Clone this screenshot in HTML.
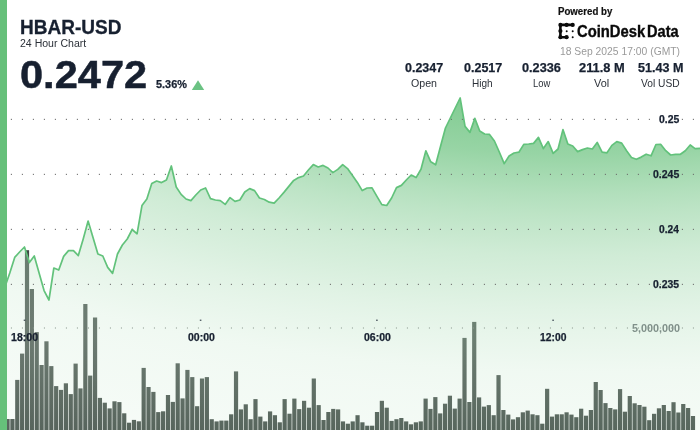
<!DOCTYPE html>
<html><head><meta charset="utf-8"><title>HBAR-USD 24 Hour Chart</title>
<style>
html,body{margin:0;padding:0;background:#fff;}
body{width:700px;height:430px;overflow:hidden;position:relative;font-family:"Liberation Sans",sans-serif;color:#172030;}
#chart{position:absolute;left:0;top:0;}
#strip{position:absolute;left:0;top:0;width:7.3px;height:430px;background:#66c07a;}
#txt{position:absolute;left:0;top:0;width:700px;height:430px;will-change:transform;transform:translateZ(0);}
.t{position:absolute;white-space:nowrap;line-height:1;transform-origin:0 0;}
.b{font-weight:bold;}
.c{transform-origin:50% 0;text-align:center;}
.r{transform-origin:100% 0;text-align:right;}
</style></head><body>
<svg id="chart" width="700" height="430" viewBox="0 0 700 430">
<defs><radialGradient id="g" gradientUnits="userSpaceOnUse" cx="575" cy="-150" r="650" gradientTransform="translate(575 -150) scale(2.0 1) translate(-575 150)">
<stop offset="0.0000" stop-color="rgb(102,192,122)" stop-opacity="0.86"/><stop offset="0.3769" stop-color="rgb(102,192,122)" stop-opacity="0.86"/><stop offset="0.4092" stop-color="rgb(102,192,122)" stop-opacity="0.79"/><stop offset="0.4677" stop-color="rgb(102,192,122)" stop-opacity="0.68"/><stop offset="0.4846" stop-color="rgb(102,192,122)" stop-opacity="0.63"/><stop offset="0.5308" stop-color="rgb(102,192,122)" stop-opacity="0.5"/><stop offset="0.5615" stop-color="rgb(102,192,122)" stop-opacity="0.43"/><stop offset="0.6231" stop-color="rgb(102,192,122)" stop-opacity="0.31"/><stop offset="0.6862" stop-color="rgb(102,192,122)" stop-opacity="0.225"/><stop offset="0.7077" stop-color="rgb(102,192,122)" stop-opacity="0.195"/><stop offset="0.7385" stop-color="rgb(102,192,122)" stop-opacity="0.16"/><stop offset="0.7692" stop-color="rgb(102,192,122)" stop-opacity="0.13"/><stop offset="0.8000" stop-color="rgb(102,192,122)" stop-opacity="0.1"/><stop offset="0.8385" stop-color="rgb(102,192,122)" stop-opacity="0.085"/><stop offset="0.8923" stop-color="rgb(102,192,122)" stop-opacity="0.075"/><stop offset="1.0000" stop-color="rgb(102,192,122)" stop-opacity="0.045"/>
</radialGradient>
<linearGradient id="v" gradientUnits="userSpaceOnUse" x1="0" y1="240" x2="0" y2="430">
<stop offset="0" stop-color="#fff" stop-opacity="0.22"/><stop offset="0.5" stop-color="#fff" stop-opacity="0.24"/><stop offset="1" stop-color="#fff" stop-opacity="0.12"/>
</linearGradient></defs>
<g fill="#404a45"><rect x="0.60" y="419.0" width="4.2" height="11.0"/><rect x="5.46" y="419.0" width="4.2" height="11.0"/><rect x="10.32" y="419.0" width="4.2" height="11.0"/><rect x="15.18" y="379.9" width="4.2" height="50.1"/><rect x="20.04" y="353.6" width="4.2" height="76.4"/><rect x="24.91" y="250.2" width="4.2" height="179.8"/><rect x="29.77" y="289.0" width="4.2" height="141.0"/><rect x="34.63" y="332.1" width="4.2" height="97.9"/><rect x="39.49" y="365.0" width="4.2" height="65.0"/><rect x="44.35" y="341.3" width="4.2" height="88.7"/><rect x="49.21" y="366.1" width="4.2" height="63.9"/><rect x="54.07" y="386.1" width="4.2" height="43.9"/><rect x="58.93" y="389.9" width="4.2" height="40.1"/><rect x="63.79" y="383.3" width="4.2" height="46.7"/><rect x="68.66" y="394.1" width="4.2" height="35.9"/><rect x="73.52" y="363.6" width="4.2" height="66.4"/><rect x="78.38" y="388.4" width="4.2" height="41.6"/><rect x="83.24" y="304.0" width="4.2" height="126.0"/><rect x="88.10" y="375.6" width="4.2" height="54.4"/><rect x="92.96" y="317.5" width="4.2" height="112.5"/><rect x="97.82" y="397.9" width="4.2" height="32.1"/><rect x="102.68" y="402.7" width="4.2" height="27.3"/><rect x="107.54" y="408.4" width="4.2" height="21.6"/><rect x="112.41" y="401.3" width="4.2" height="28.7"/><rect x="117.27" y="402.1" width="4.2" height="27.9"/><rect x="122.13" y="413.3" width="4.2" height="16.7"/><rect x="126.99" y="422.7" width="4.2" height="7.3"/><rect x="131.85" y="419.9" width="4.2" height="10.1"/><rect x="136.71" y="421.3" width="4.2" height="8.7"/><rect x="141.57" y="367.9" width="4.2" height="62.1"/><rect x="146.43" y="387.0" width="4.2" height="43.0"/><rect x="151.29" y="391.9" width="4.2" height="38.1"/><rect x="156.16" y="412.1" width="4.2" height="17.9"/><rect x="161.02" y="411.3" width="4.2" height="18.7"/><rect x="165.88" y="395.0" width="4.2" height="35.0"/><rect x="170.74" y="401.9" width="4.2" height="28.1"/><rect x="175.60" y="363.3" width="4.2" height="66.7"/><rect x="180.46" y="398.4" width="4.2" height="31.6"/><rect x="185.32" y="369.9" width="4.2" height="60.1"/><rect x="190.18" y="377.1" width="4.2" height="52.9"/><rect x="195.04" y="406.2" width="4.2" height="23.8"/><rect x="199.91" y="378.5" width="4.2" height="51.5"/><rect x="204.77" y="377.1" width="4.2" height="52.9"/><rect x="209.63" y="419.2" width="4.2" height="10.8"/><rect x="214.49" y="421.4" width="4.2" height="8.6"/><rect x="219.35" y="420.6" width="4.2" height="9.4"/><rect x="224.21" y="420.6" width="4.2" height="9.4"/><rect x="229.07" y="414.3" width="4.2" height="15.7"/><rect x="233.93" y="371.4" width="4.2" height="58.6"/><rect x="238.79" y="409.4" width="4.2" height="20.6"/><rect x="243.66" y="404.3" width="4.2" height="25.7"/><rect x="248.52" y="419.2" width="4.2" height="10.8"/><rect x="253.38" y="399.1" width="4.2" height="30.9"/><rect x="258.24" y="416.6" width="4.2" height="13.4"/><rect x="263.10" y="421.4" width="4.2" height="8.6"/><rect x="267.96" y="411.4" width="4.2" height="18.6"/><rect x="272.82" y="415.2" width="4.2" height="14.8"/><rect x="277.68" y="422.3" width="4.2" height="7.7"/><rect x="282.54" y="399.1" width="4.2" height="30.9"/><rect x="287.41" y="413.7" width="4.2" height="16.3"/><rect x="292.27" y="398.6" width="4.2" height="31.4"/><rect x="297.13" y="409.1" width="4.2" height="20.9"/><rect x="301.99" y="400.8" width="4.2" height="29.2"/><rect x="306.85" y="407.7" width="4.2" height="22.3"/><rect x="311.71" y="378.5" width="4.2" height="51.5"/><rect x="316.57" y="405.1" width="4.2" height="24.9"/><rect x="321.43" y="420.0" width="4.2" height="10.0"/><rect x="326.29" y="412.0" width="4.2" height="18.0"/><rect x="331.16" y="408.9" width="4.2" height="21.1"/><rect x="336.02" y="409.4" width="4.2" height="20.6"/><rect x="340.88" y="421.4" width="4.2" height="8.6"/><rect x="345.74" y="423.7" width="4.2" height="6.3"/><rect x="350.60" y="421.4" width="4.2" height="8.6"/><rect x="355.46" y="415.2" width="4.2" height="14.8"/><rect x="360.32" y="422.3" width="4.2" height="7.7"/><rect x="365.18" y="425.7" width="4.2" height="4.3"/><rect x="370.04" y="425.7" width="4.2" height="4.3"/><rect x="374.91" y="412.0" width="4.2" height="18.0"/><rect x="379.77" y="400.8" width="4.2" height="29.2"/><rect x="384.63" y="407.7" width="4.2" height="22.3"/><rect x="389.49" y="420.9" width="4.2" height="9.1"/><rect x="394.35" y="419.2" width="4.2" height="10.8"/><rect x="399.21" y="418.0" width="4.2" height="12.0"/><rect x="404.07" y="421.4" width="4.2" height="8.6"/><rect x="408.93" y="424.3" width="4.2" height="5.7"/><rect x="413.79" y="422.3" width="4.2" height="7.7"/><rect x="418.66" y="421.4" width="4.2" height="8.6"/><rect x="423.52" y="398.6" width="4.2" height="31.4"/><rect x="428.38" y="408.9" width="4.2" height="21.1"/><rect x="433.24" y="397.1" width="4.2" height="32.9"/><rect x="438.10" y="413.4" width="4.2" height="16.6"/><rect x="442.96" y="403.7" width="4.2" height="26.3"/><rect x="447.82" y="395.7" width="4.2" height="34.3"/><rect x="452.68" y="408.6" width="4.2" height="21.4"/><rect x="457.54" y="398.6" width="4.2" height="31.4"/><rect x="462.41" y="337.9" width="4.2" height="92.1"/><rect x="467.27" y="402.0" width="4.2" height="28.0"/><rect x="472.13" y="321.9" width="4.2" height="108.1"/><rect x="476.99" y="397.4" width="4.2" height="32.6"/><rect x="481.85" y="406.6" width="4.2" height="23.4"/><rect x="486.71" y="405.1" width="4.2" height="24.9"/><rect x="491.57" y="415.2" width="4.2" height="14.8"/><rect x="496.43" y="375.1" width="4.2" height="54.9"/><rect x="501.29" y="410.0" width="4.2" height="20.0"/><rect x="506.16" y="414.6" width="4.2" height="15.4"/><rect x="511.02" y="419.4" width="4.2" height="10.6"/><rect x="515.88" y="417.2" width="4.2" height="12.8"/><rect x="520.74" y="412.3" width="4.2" height="17.7"/><rect x="525.60" y="410.6" width="4.2" height="19.4"/><rect x="530.46" y="414.3" width="4.2" height="15.7"/><rect x="535.32" y="415.2" width="4.2" height="14.8"/><rect x="540.18" y="423.7" width="4.2" height="6.3"/><rect x="545.04" y="388.8" width="4.2" height="41.2"/><rect x="549.91" y="416.6" width="4.2" height="13.4"/><rect x="554.77" y="414.3" width="4.2" height="15.7"/><rect x="559.63" y="414.3" width="4.2" height="15.7"/><rect x="564.49" y="412.3" width="4.2" height="17.7"/><rect x="569.35" y="414.6" width="4.2" height="15.4"/><rect x="574.21" y="417.2" width="4.2" height="12.8"/><rect x="579.07" y="408.7" width="4.2" height="21.3"/><rect x="583.93" y="415.7" width="4.2" height="14.3"/><rect x="588.79" y="410.0" width="4.2" height="20.0"/><rect x="593.66" y="382.0" width="4.2" height="48.0"/><rect x="598.52" y="390.0" width="4.2" height="40.0"/><rect x="603.38" y="403.1" width="4.2" height="26.9"/><rect x="608.24" y="408.0" width="4.2" height="22.0"/><rect x="613.10" y="409.4" width="4.2" height="20.6"/><rect x="617.96" y="389.1" width="4.2" height="40.9"/><rect x="622.82" y="411.7" width="4.2" height="18.3"/><rect x="627.68" y="396.0" width="4.2" height="34.0"/><rect x="632.54" y="403.3" width="4.2" height="26.7"/><rect x="637.41" y="405.0" width="4.2" height="25.0"/><rect x="642.27" y="406.7" width="4.2" height="23.3"/><rect x="647.13" y="420.2" width="4.2" height="9.8"/><rect x="651.99" y="413.8" width="4.2" height="16.2"/><rect x="656.85" y="408.3" width="4.2" height="21.7"/><rect x="661.71" y="405.0" width="4.2" height="25.0"/><rect x="666.57" y="411.0" width="4.2" height="19.0"/><rect x="671.43" y="402.2" width="4.2" height="27.8"/><rect x="676.29" y="412.5" width="4.2" height="17.5"/><rect x="681.16" y="404.0" width="4.2" height="26.0"/><rect x="686.02" y="408.0" width="4.2" height="22.0"/><rect x="690.88" y="416.0" width="4.2" height="14.0"/></g>
<path d="M0.00,290.00 L4.90,287.00 L9.79,273.00 L14.69,257.40 L19.58,252.00 L24.48,247.00 L29.37,262.60 L34.27,256.00 L39.16,273.20 L44.06,290.60 L48.95,300.00 L53.85,268.00 L58.74,270.00 L63.64,256.40 L68.53,250.60 L73.43,250.60 L78.32,255.60 L83.22,239.00 L88.11,221.00 L93.01,237.40 L97.90,254.00 L102.80,256.00 L107.69,267.40 L112.59,273.40 L117.48,254.00 L122.38,245.00 L127.27,239.00 L132.17,229.50 L137.06,233.80 L141.96,205.60 L146.85,199.00 L151.75,183.60 L156.64,181.00 L161.54,182.60 L166.43,180.00 L171.33,166.00 L176.22,187.00 L181.12,194.40 L186.01,199.00 L190.91,200.60 L195.80,195.00 L200.70,190.00 L205.59,188.00 L210.49,198.60 L215.38,200.00 L220.28,200.60 L225.17,204.40 L230.07,197.60 L234.97,201.40 L239.86,200.00 L244.76,192.00 L249.65,188.60 L254.55,190.60 L259.44,198.00 L264.34,199.50 L269.23,202.20 L274.13,203.20 L279.02,198.00 L283.92,192.40 L288.81,186.40 L293.71,180.40 L298.60,177.60 L303.50,176.00 L308.39,170.00 L313.29,164.60 L318.18,167.00 L323.08,165.40 L327.97,168.00 L332.87,172.60 L337.76,169.40 L342.66,164.60 L347.55,168.60 L352.45,175.60 L357.34,182.40 L362.24,190.60 L367.13,188.00 L372.03,187.80 L376.92,196.40 L381.82,204.60 L386.71,205.50 L391.61,198.00 L396.50,187.60 L401.40,185.40 L406.29,180.00 L411.19,175.00 L416.08,177.60 L420.98,169.20 L425.87,150.80 L430.77,161.80 L435.66,164.80 L440.56,146.20 L445.45,128.00 L450.35,118.00 L455.24,108.00 L460.14,98.00 L465.03,126.40 L469.93,132.40 L474.83,118.40 L479.72,131.00 L484.62,134.00 L489.51,134.40 L494.41,141.00 L499.30,152.00 L504.20,163.60 L509.09,156.00 L513.99,153.00 L518.88,152.20 L523.78,144.40 L528.67,144.00 L533.57,143.40 L538.46,137.40 L543.36,148.60 L548.25,141.60 L553.15,153.40 L558.04,149.00 L562.94,129.60 L567.83,144.00 L572.73,146.00 L577.62,151.60 L582.52,149.60 L587.41,148.00 L592.31,149.00 L597.20,142.40 L602.10,152.20 L606.99,152.80 L611.89,145.40 L616.78,141.60 L621.68,143.10 L626.57,150.80 L631.47,157.50 L636.36,159.30 L641.26,157.10 L646.15,154.20 L651.05,155.80 L655.94,144.50 L660.84,144.40 L665.73,150.70 L670.63,155.00 L675.52,154.30 L680.42,154.30 L685.31,150.70 L690.21,145.00 L695.10,148.60 L700.00,148.30 L700,430 L0,430 Z" fill="url(#v)"/>
<path d="M0.00,290.00 L4.90,287.00 L9.79,273.00 L14.69,257.40 L19.58,252.00 L24.48,247.00 L29.37,262.60 L34.27,256.00 L39.16,273.20 L44.06,290.60 L48.95,300.00 L53.85,268.00 L58.74,270.00 L63.64,256.40 L68.53,250.60 L73.43,250.60 L78.32,255.60 L83.22,239.00 L88.11,221.00 L93.01,237.40 L97.90,254.00 L102.80,256.00 L107.69,267.40 L112.59,273.40 L117.48,254.00 L122.38,245.00 L127.27,239.00 L132.17,229.50 L137.06,233.80 L141.96,205.60 L146.85,199.00 L151.75,183.60 L156.64,181.00 L161.54,182.60 L166.43,180.00 L171.33,166.00 L176.22,187.00 L181.12,194.40 L186.01,199.00 L190.91,200.60 L195.80,195.00 L200.70,190.00 L205.59,188.00 L210.49,198.60 L215.38,200.00 L220.28,200.60 L225.17,204.40 L230.07,197.60 L234.97,201.40 L239.86,200.00 L244.76,192.00 L249.65,188.60 L254.55,190.60 L259.44,198.00 L264.34,199.50 L269.23,202.20 L274.13,203.20 L279.02,198.00 L283.92,192.40 L288.81,186.40 L293.71,180.40 L298.60,177.60 L303.50,176.00 L308.39,170.00 L313.29,164.60 L318.18,167.00 L323.08,165.40 L327.97,168.00 L332.87,172.60 L337.76,169.40 L342.66,164.60 L347.55,168.60 L352.45,175.60 L357.34,182.40 L362.24,190.60 L367.13,188.00 L372.03,187.80 L376.92,196.40 L381.82,204.60 L386.71,205.50 L391.61,198.00 L396.50,187.60 L401.40,185.40 L406.29,180.00 L411.19,175.00 L416.08,177.60 L420.98,169.20 L425.87,150.80 L430.77,161.80 L435.66,164.80 L440.56,146.20 L445.45,128.00 L450.35,118.00 L455.24,108.00 L460.14,98.00 L465.03,126.40 L469.93,132.40 L474.83,118.40 L479.72,131.00 L484.62,134.00 L489.51,134.40 L494.41,141.00 L499.30,152.00 L504.20,163.60 L509.09,156.00 L513.99,153.00 L518.88,152.20 L523.78,144.40 L528.67,144.00 L533.57,143.40 L538.46,137.40 L543.36,148.60 L548.25,141.60 L553.15,153.40 L558.04,149.00 L562.94,129.60 L567.83,144.00 L572.73,146.00 L577.62,151.60 L582.52,149.60 L587.41,148.00 L592.31,149.00 L597.20,142.40 L602.10,152.20 L606.99,152.80 L611.89,145.40 L616.78,141.60 L621.68,143.10 L626.57,150.80 L631.47,157.50 L636.36,159.30 L641.26,157.10 L646.15,154.20 L651.05,155.80 L655.94,144.50 L660.84,144.40 L665.73,150.70 L670.63,155.00 L675.52,154.30 L680.42,154.30 L685.31,150.70 L690.21,145.00 L695.10,148.60 L700.00,148.30 L700,430 L0,430 Z" fill="url(#g)"/>
<g fill="#6a6a6a" opacity="0.9"><rect x="10.85" y="118.80" width="1.1" height="1.2"/><rect x="21.85" y="118.80" width="1.1" height="1.2"/><rect x="32.85" y="118.80" width="1.1" height="1.2"/><rect x="43.85" y="118.80" width="1.1" height="1.2"/><rect x="54.85" y="118.80" width="1.1" height="1.2"/><rect x="65.85" y="118.80" width="1.1" height="1.2"/><rect x="76.85" y="118.80" width="1.1" height="1.2"/><rect x="87.85" y="118.80" width="1.1" height="1.2"/><rect x="98.85" y="118.80" width="1.1" height="1.2"/><rect x="109.85" y="118.80" width="1.1" height="1.2"/><rect x="120.85" y="118.80" width="1.1" height="1.2"/><rect x="131.85" y="118.80" width="1.1" height="1.2"/><rect x="142.85" y="118.80" width="1.1" height="1.2"/><rect x="153.85" y="118.80" width="1.1" height="1.2"/><rect x="164.85" y="118.80" width="1.1" height="1.2"/><rect x="175.85" y="118.80" width="1.1" height="1.2"/><rect x="186.85" y="118.80" width="1.1" height="1.2"/><rect x="197.85" y="118.80" width="1.1" height="1.2"/><rect x="208.85" y="118.80" width="1.1" height="1.2"/><rect x="219.85" y="118.80" width="1.1" height="1.2"/><rect x="230.85" y="118.80" width="1.1" height="1.2"/><rect x="241.85" y="118.80" width="1.1" height="1.2"/><rect x="252.85" y="118.80" width="1.1" height="1.2"/><rect x="263.85" y="118.80" width="1.1" height="1.2"/><rect x="274.85" y="118.80" width="1.1" height="1.2"/><rect x="285.85" y="118.80" width="1.1" height="1.2"/><rect x="296.85" y="118.80" width="1.1" height="1.2"/><rect x="307.85" y="118.80" width="1.1" height="1.2"/><rect x="318.85" y="118.80" width="1.1" height="1.2"/><rect x="329.85" y="118.80" width="1.1" height="1.2"/><rect x="340.85" y="118.80" width="1.1" height="1.2"/><rect x="351.85" y="118.80" width="1.1" height="1.2"/><rect x="362.85" y="118.80" width="1.1" height="1.2"/><rect x="373.85" y="118.80" width="1.1" height="1.2"/><rect x="384.85" y="118.80" width="1.1" height="1.2"/><rect x="395.85" y="118.80" width="1.1" height="1.2"/><rect x="406.85" y="118.80" width="1.1" height="1.2"/><rect x="417.85" y="118.80" width="1.1" height="1.2"/><rect x="428.85" y="118.80" width="1.1" height="1.2"/><rect x="439.85" y="118.80" width="1.1" height="1.2"/><rect x="450.85" y="118.80" width="1.1" height="1.2"/><rect x="461.85" y="118.80" width="1.1" height="1.2"/><rect x="472.85" y="118.80" width="1.1" height="1.2"/><rect x="483.85" y="118.80" width="1.1" height="1.2"/><rect x="494.85" y="118.80" width="1.1" height="1.2"/><rect x="505.85" y="118.80" width="1.1" height="1.2"/><rect x="516.85" y="118.80" width="1.1" height="1.2"/><rect x="527.85" y="118.80" width="1.1" height="1.2"/><rect x="538.85" y="118.80" width="1.1" height="1.2"/><rect x="549.85" y="118.80" width="1.1" height="1.2"/><rect x="560.85" y="118.80" width="1.1" height="1.2"/><rect x="571.85" y="118.80" width="1.1" height="1.2"/><rect x="582.85" y="118.80" width="1.1" height="1.2"/><rect x="593.85" y="118.80" width="1.1" height="1.2"/><rect x="604.85" y="118.80" width="1.1" height="1.2"/><rect x="615.85" y="118.80" width="1.1" height="1.2"/><rect x="626.85" y="118.80" width="1.1" height="1.2"/><rect x="637.85" y="118.80" width="1.1" height="1.2"/><rect x="648.85" y="118.80" width="1.1" height="1.2"/><rect x="659.85" y="118.80" width="1.1" height="1.2"/><rect x="670.85" y="118.80" width="1.1" height="1.2"/><rect x="681.85" y="118.80" width="1.1" height="1.2"/><rect x="692.85" y="118.80" width="1.1" height="1.2"/></g><g fill="#6a6a6a" opacity="0.9"><rect x="10.85" y="173.80" width="1.1" height="1.2"/><rect x="21.85" y="173.80" width="1.1" height="1.2"/><rect x="32.85" y="173.80" width="1.1" height="1.2"/><rect x="43.85" y="173.80" width="1.1" height="1.2"/><rect x="54.85" y="173.80" width="1.1" height="1.2"/><rect x="65.85" y="173.80" width="1.1" height="1.2"/><rect x="76.85" y="173.80" width="1.1" height="1.2"/><rect x="87.85" y="173.80" width="1.1" height="1.2"/><rect x="98.85" y="173.80" width="1.1" height="1.2"/><rect x="109.85" y="173.80" width="1.1" height="1.2"/><rect x="120.85" y="173.80" width="1.1" height="1.2"/><rect x="131.85" y="173.80" width="1.1" height="1.2"/><rect x="142.85" y="173.80" width="1.1" height="1.2"/><rect x="153.85" y="173.80" width="1.1" height="1.2"/><rect x="164.85" y="173.80" width="1.1" height="1.2"/><rect x="175.85" y="173.80" width="1.1" height="1.2"/><rect x="186.85" y="173.80" width="1.1" height="1.2"/><rect x="197.85" y="173.80" width="1.1" height="1.2"/><rect x="208.85" y="173.80" width="1.1" height="1.2"/><rect x="219.85" y="173.80" width="1.1" height="1.2"/><rect x="230.85" y="173.80" width="1.1" height="1.2"/><rect x="241.85" y="173.80" width="1.1" height="1.2"/><rect x="252.85" y="173.80" width="1.1" height="1.2"/><rect x="263.85" y="173.80" width="1.1" height="1.2"/><rect x="274.85" y="173.80" width="1.1" height="1.2"/><rect x="285.85" y="173.80" width="1.1" height="1.2"/><rect x="296.85" y="173.80" width="1.1" height="1.2"/><rect x="307.85" y="173.80" width="1.1" height="1.2"/><rect x="318.85" y="173.80" width="1.1" height="1.2"/><rect x="329.85" y="173.80" width="1.1" height="1.2"/><rect x="340.85" y="173.80" width="1.1" height="1.2"/><rect x="351.85" y="173.80" width="1.1" height="1.2"/><rect x="362.85" y="173.80" width="1.1" height="1.2"/><rect x="373.85" y="173.80" width="1.1" height="1.2"/><rect x="384.85" y="173.80" width="1.1" height="1.2"/><rect x="395.85" y="173.80" width="1.1" height="1.2"/><rect x="406.85" y="173.80" width="1.1" height="1.2"/><rect x="417.85" y="173.80" width="1.1" height="1.2"/><rect x="428.85" y="173.80" width="1.1" height="1.2"/><rect x="439.85" y="173.80" width="1.1" height="1.2"/><rect x="450.85" y="173.80" width="1.1" height="1.2"/><rect x="461.85" y="173.80" width="1.1" height="1.2"/><rect x="472.85" y="173.80" width="1.1" height="1.2"/><rect x="483.85" y="173.80" width="1.1" height="1.2"/><rect x="494.85" y="173.80" width="1.1" height="1.2"/><rect x="505.85" y="173.80" width="1.1" height="1.2"/><rect x="516.85" y="173.80" width="1.1" height="1.2"/><rect x="527.85" y="173.80" width="1.1" height="1.2"/><rect x="538.85" y="173.80" width="1.1" height="1.2"/><rect x="549.85" y="173.80" width="1.1" height="1.2"/><rect x="560.85" y="173.80" width="1.1" height="1.2"/><rect x="571.85" y="173.80" width="1.1" height="1.2"/><rect x="582.85" y="173.80" width="1.1" height="1.2"/><rect x="593.85" y="173.80" width="1.1" height="1.2"/><rect x="604.85" y="173.80" width="1.1" height="1.2"/><rect x="615.85" y="173.80" width="1.1" height="1.2"/><rect x="626.85" y="173.80" width="1.1" height="1.2"/><rect x="637.85" y="173.80" width="1.1" height="1.2"/><rect x="648.85" y="173.80" width="1.1" height="1.2"/><rect x="659.85" y="173.80" width="1.1" height="1.2"/><rect x="670.85" y="173.80" width="1.1" height="1.2"/><rect x="681.85" y="173.80" width="1.1" height="1.2"/><rect x="692.85" y="173.80" width="1.1" height="1.2"/></g><g fill="#6a6a6a" opacity="0.9"><rect x="10.85" y="228.80" width="1.1" height="1.2"/><rect x="21.85" y="228.80" width="1.1" height="1.2"/><rect x="32.85" y="228.80" width="1.1" height="1.2"/><rect x="43.85" y="228.80" width="1.1" height="1.2"/><rect x="54.85" y="228.80" width="1.1" height="1.2"/><rect x="65.85" y="228.80" width="1.1" height="1.2"/><rect x="76.85" y="228.80" width="1.1" height="1.2"/><rect x="87.85" y="228.80" width="1.1" height="1.2"/><rect x="98.85" y="228.80" width="1.1" height="1.2"/><rect x="109.85" y="228.80" width="1.1" height="1.2"/><rect x="120.85" y="228.80" width="1.1" height="1.2"/><rect x="131.85" y="228.80" width="1.1" height="1.2"/><rect x="142.85" y="228.80" width="1.1" height="1.2"/><rect x="153.85" y="228.80" width="1.1" height="1.2"/><rect x="164.85" y="228.80" width="1.1" height="1.2"/><rect x="175.85" y="228.80" width="1.1" height="1.2"/><rect x="186.85" y="228.80" width="1.1" height="1.2"/><rect x="197.85" y="228.80" width="1.1" height="1.2"/><rect x="208.85" y="228.80" width="1.1" height="1.2"/><rect x="219.85" y="228.80" width="1.1" height="1.2"/><rect x="230.85" y="228.80" width="1.1" height="1.2"/><rect x="241.85" y="228.80" width="1.1" height="1.2"/><rect x="252.85" y="228.80" width="1.1" height="1.2"/><rect x="263.85" y="228.80" width="1.1" height="1.2"/><rect x="274.85" y="228.80" width="1.1" height="1.2"/><rect x="285.85" y="228.80" width="1.1" height="1.2"/><rect x="296.85" y="228.80" width="1.1" height="1.2"/><rect x="307.85" y="228.80" width="1.1" height="1.2"/><rect x="318.85" y="228.80" width="1.1" height="1.2"/><rect x="329.85" y="228.80" width="1.1" height="1.2"/><rect x="340.85" y="228.80" width="1.1" height="1.2"/><rect x="351.85" y="228.80" width="1.1" height="1.2"/><rect x="362.85" y="228.80" width="1.1" height="1.2"/><rect x="373.85" y="228.80" width="1.1" height="1.2"/><rect x="384.85" y="228.80" width="1.1" height="1.2"/><rect x="395.85" y="228.80" width="1.1" height="1.2"/><rect x="406.85" y="228.80" width="1.1" height="1.2"/><rect x="417.85" y="228.80" width="1.1" height="1.2"/><rect x="428.85" y="228.80" width="1.1" height="1.2"/><rect x="439.85" y="228.80" width="1.1" height="1.2"/><rect x="450.85" y="228.80" width="1.1" height="1.2"/><rect x="461.85" y="228.80" width="1.1" height="1.2"/><rect x="472.85" y="228.80" width="1.1" height="1.2"/><rect x="483.85" y="228.80" width="1.1" height="1.2"/><rect x="494.85" y="228.80" width="1.1" height="1.2"/><rect x="505.85" y="228.80" width="1.1" height="1.2"/><rect x="516.85" y="228.80" width="1.1" height="1.2"/><rect x="527.85" y="228.80" width="1.1" height="1.2"/><rect x="538.85" y="228.80" width="1.1" height="1.2"/><rect x="549.85" y="228.80" width="1.1" height="1.2"/><rect x="560.85" y="228.80" width="1.1" height="1.2"/><rect x="571.85" y="228.80" width="1.1" height="1.2"/><rect x="582.85" y="228.80" width="1.1" height="1.2"/><rect x="593.85" y="228.80" width="1.1" height="1.2"/><rect x="604.85" y="228.80" width="1.1" height="1.2"/><rect x="615.85" y="228.80" width="1.1" height="1.2"/><rect x="626.85" y="228.80" width="1.1" height="1.2"/><rect x="637.85" y="228.80" width="1.1" height="1.2"/><rect x="648.85" y="228.80" width="1.1" height="1.2"/><rect x="659.85" y="228.80" width="1.1" height="1.2"/><rect x="670.85" y="228.80" width="1.1" height="1.2"/><rect x="681.85" y="228.80" width="1.1" height="1.2"/><rect x="692.85" y="228.80" width="1.1" height="1.2"/></g><g fill="#6a6a6a" opacity="0.9"><rect x="10.85" y="283.80" width="1.1" height="1.2"/><rect x="21.85" y="283.80" width="1.1" height="1.2"/><rect x="32.85" y="283.80" width="1.1" height="1.2"/><rect x="43.85" y="283.80" width="1.1" height="1.2"/><rect x="54.85" y="283.80" width="1.1" height="1.2"/><rect x="65.85" y="283.80" width="1.1" height="1.2"/><rect x="76.85" y="283.80" width="1.1" height="1.2"/><rect x="87.85" y="283.80" width="1.1" height="1.2"/><rect x="98.85" y="283.80" width="1.1" height="1.2"/><rect x="109.85" y="283.80" width="1.1" height="1.2"/><rect x="120.85" y="283.80" width="1.1" height="1.2"/><rect x="131.85" y="283.80" width="1.1" height="1.2"/><rect x="142.85" y="283.80" width="1.1" height="1.2"/><rect x="153.85" y="283.80" width="1.1" height="1.2"/><rect x="164.85" y="283.80" width="1.1" height="1.2"/><rect x="175.85" y="283.80" width="1.1" height="1.2"/><rect x="186.85" y="283.80" width="1.1" height="1.2"/><rect x="197.85" y="283.80" width="1.1" height="1.2"/><rect x="208.85" y="283.80" width="1.1" height="1.2"/><rect x="219.85" y="283.80" width="1.1" height="1.2"/><rect x="230.85" y="283.80" width="1.1" height="1.2"/><rect x="241.85" y="283.80" width="1.1" height="1.2"/><rect x="252.85" y="283.80" width="1.1" height="1.2"/><rect x="263.85" y="283.80" width="1.1" height="1.2"/><rect x="274.85" y="283.80" width="1.1" height="1.2"/><rect x="285.85" y="283.80" width="1.1" height="1.2"/><rect x="296.85" y="283.80" width="1.1" height="1.2"/><rect x="307.85" y="283.80" width="1.1" height="1.2"/><rect x="318.85" y="283.80" width="1.1" height="1.2"/><rect x="329.85" y="283.80" width="1.1" height="1.2"/><rect x="340.85" y="283.80" width="1.1" height="1.2"/><rect x="351.85" y="283.80" width="1.1" height="1.2"/><rect x="362.85" y="283.80" width="1.1" height="1.2"/><rect x="373.85" y="283.80" width="1.1" height="1.2"/><rect x="384.85" y="283.80" width="1.1" height="1.2"/><rect x="395.85" y="283.80" width="1.1" height="1.2"/><rect x="406.85" y="283.80" width="1.1" height="1.2"/><rect x="417.85" y="283.80" width="1.1" height="1.2"/><rect x="428.85" y="283.80" width="1.1" height="1.2"/><rect x="439.85" y="283.80" width="1.1" height="1.2"/><rect x="450.85" y="283.80" width="1.1" height="1.2"/><rect x="461.85" y="283.80" width="1.1" height="1.2"/><rect x="472.85" y="283.80" width="1.1" height="1.2"/><rect x="483.85" y="283.80" width="1.1" height="1.2"/><rect x="494.85" y="283.80" width="1.1" height="1.2"/><rect x="505.85" y="283.80" width="1.1" height="1.2"/><rect x="516.85" y="283.80" width="1.1" height="1.2"/><rect x="527.85" y="283.80" width="1.1" height="1.2"/><rect x="538.85" y="283.80" width="1.1" height="1.2"/><rect x="549.85" y="283.80" width="1.1" height="1.2"/><rect x="560.85" y="283.80" width="1.1" height="1.2"/><rect x="571.85" y="283.80" width="1.1" height="1.2"/><rect x="582.85" y="283.80" width="1.1" height="1.2"/><rect x="593.85" y="283.80" width="1.1" height="1.2"/><rect x="604.85" y="283.80" width="1.1" height="1.2"/><rect x="615.85" y="283.80" width="1.1" height="1.2"/><rect x="626.85" y="283.80" width="1.1" height="1.2"/><rect x="637.85" y="283.80" width="1.1" height="1.2"/><rect x="648.85" y="283.80" width="1.1" height="1.2"/><rect x="659.85" y="283.80" width="1.1" height="1.2"/><rect x="670.85" y="283.80" width="1.1" height="1.2"/><rect x="681.85" y="283.80" width="1.1" height="1.2"/><rect x="692.85" y="283.80" width="1.1" height="1.2"/></g><g fill="#8a988e" opacity="0.6"><rect x="10.90" y="327.10" width="1.0" height="1.8"/><rect x="21.90" y="327.10" width="1.0" height="1.8"/><rect x="32.90" y="327.10" width="1.0" height="1.8"/><rect x="43.90" y="327.10" width="1.0" height="1.8"/><rect x="54.90" y="327.10" width="1.0" height="1.8"/><rect x="65.90" y="327.10" width="1.0" height="1.8"/><rect x="76.90" y="327.10" width="1.0" height="1.8"/><rect x="87.90" y="327.10" width="1.0" height="1.8"/><rect x="98.90" y="327.10" width="1.0" height="1.8"/><rect x="109.90" y="327.10" width="1.0" height="1.8"/><rect x="120.90" y="327.10" width="1.0" height="1.8"/><rect x="131.90" y="327.10" width="1.0" height="1.8"/><rect x="142.90" y="327.10" width="1.0" height="1.8"/><rect x="153.90" y="327.10" width="1.0" height="1.8"/><rect x="164.90" y="327.10" width="1.0" height="1.8"/><rect x="175.90" y="327.10" width="1.0" height="1.8"/><rect x="186.90" y="327.10" width="1.0" height="1.8"/><rect x="197.90" y="327.10" width="1.0" height="1.8"/><rect x="208.90" y="327.10" width="1.0" height="1.8"/><rect x="219.90" y="327.10" width="1.0" height="1.8"/><rect x="230.90" y="327.10" width="1.0" height="1.8"/><rect x="241.90" y="327.10" width="1.0" height="1.8"/><rect x="252.90" y="327.10" width="1.0" height="1.8"/><rect x="263.90" y="327.10" width="1.0" height="1.8"/><rect x="274.90" y="327.10" width="1.0" height="1.8"/><rect x="285.90" y="327.10" width="1.0" height="1.8"/><rect x="296.90" y="327.10" width="1.0" height="1.8"/><rect x="307.90" y="327.10" width="1.0" height="1.8"/><rect x="318.90" y="327.10" width="1.0" height="1.8"/><rect x="329.90" y="327.10" width="1.0" height="1.8"/><rect x="340.90" y="327.10" width="1.0" height="1.8"/><rect x="351.90" y="327.10" width="1.0" height="1.8"/><rect x="362.90" y="327.10" width="1.0" height="1.8"/><rect x="373.90" y="327.10" width="1.0" height="1.8"/><rect x="384.90" y="327.10" width="1.0" height="1.8"/><rect x="395.90" y="327.10" width="1.0" height="1.8"/><rect x="406.90" y="327.10" width="1.0" height="1.8"/><rect x="417.90" y="327.10" width="1.0" height="1.8"/><rect x="428.90" y="327.10" width="1.0" height="1.8"/><rect x="439.90" y="327.10" width="1.0" height="1.8"/><rect x="450.90" y="327.10" width="1.0" height="1.8"/><rect x="461.90" y="327.10" width="1.0" height="1.8"/><rect x="472.90" y="327.10" width="1.0" height="1.8"/><rect x="483.90" y="327.10" width="1.0" height="1.8"/><rect x="494.90" y="327.10" width="1.0" height="1.8"/><rect x="505.90" y="327.10" width="1.0" height="1.8"/><rect x="516.90" y="327.10" width="1.0" height="1.8"/><rect x="527.90" y="327.10" width="1.0" height="1.8"/><rect x="538.90" y="327.10" width="1.0" height="1.8"/><rect x="549.90" y="327.10" width="1.0" height="1.8"/><rect x="560.90" y="327.10" width="1.0" height="1.8"/><rect x="571.90" y="327.10" width="1.0" height="1.8"/><rect x="582.90" y="327.10" width="1.0" height="1.8"/><rect x="593.90" y="327.10" width="1.0" height="1.8"/><rect x="604.90" y="327.10" width="1.0" height="1.8"/><rect x="615.90" y="327.10" width="1.0" height="1.8"/><rect x="626.90" y="327.10" width="1.0" height="1.8"/><rect x="637.90" y="327.10" width="1.0" height="1.8"/><rect x="648.90" y="327.10" width="1.0" height="1.8"/><rect x="659.90" y="327.10" width="1.0" height="1.8"/><rect x="670.90" y="327.10" width="1.0" height="1.8"/><rect x="681.90" y="327.10" width="1.0" height="1.8"/><rect x="692.90" y="327.10" width="1.0" height="1.8"/></g><rect x="23.7" y="319.7" width="1.6" height="1.0" fill="#1b2433"/><rect x="199.8" y="319.7" width="1.6" height="1.0" fill="#1b2433"/><rect x="376.1" y="319.7" width="1.6" height="1.0" fill="#1b2433"/><rect x="552.3" y="319.7" width="1.6" height="1.0" fill="#1b2433"/>
<path d="M0.00,290.00 L4.90,287.00 L9.79,273.00 L14.69,257.40 L19.58,252.00 L24.48,247.00 L29.37,262.60 L34.27,256.00 L39.16,273.20 L44.06,290.60 L48.95,300.00 L53.85,268.00 L58.74,270.00 L63.64,256.40 L68.53,250.60 L73.43,250.60 L78.32,255.60 L83.22,239.00 L88.11,221.00 L93.01,237.40 L97.90,254.00 L102.80,256.00 L107.69,267.40 L112.59,273.40 L117.48,254.00 L122.38,245.00 L127.27,239.00 L132.17,229.50 L137.06,233.80 L141.96,205.60 L146.85,199.00 L151.75,183.60 L156.64,181.00 L161.54,182.60 L166.43,180.00 L171.33,166.00 L176.22,187.00 L181.12,194.40 L186.01,199.00 L190.91,200.60 L195.80,195.00 L200.70,190.00 L205.59,188.00 L210.49,198.60 L215.38,200.00 L220.28,200.60 L225.17,204.40 L230.07,197.60 L234.97,201.40 L239.86,200.00 L244.76,192.00 L249.65,188.60 L254.55,190.60 L259.44,198.00 L264.34,199.50 L269.23,202.20 L274.13,203.20 L279.02,198.00 L283.92,192.40 L288.81,186.40 L293.71,180.40 L298.60,177.60 L303.50,176.00 L308.39,170.00 L313.29,164.60 L318.18,167.00 L323.08,165.40 L327.97,168.00 L332.87,172.60 L337.76,169.40 L342.66,164.60 L347.55,168.60 L352.45,175.60 L357.34,182.40 L362.24,190.60 L367.13,188.00 L372.03,187.80 L376.92,196.40 L381.82,204.60 L386.71,205.50 L391.61,198.00 L396.50,187.60 L401.40,185.40 L406.29,180.00 L411.19,175.00 L416.08,177.60 L420.98,169.20 L425.87,150.80 L430.77,161.80 L435.66,164.80 L440.56,146.20 L445.45,128.00 L450.35,118.00 L455.24,108.00 L460.14,98.00 L465.03,126.40 L469.93,132.40 L474.83,118.40 L479.72,131.00 L484.62,134.00 L489.51,134.40 L494.41,141.00 L499.30,152.00 L504.20,163.60 L509.09,156.00 L513.99,153.00 L518.88,152.20 L523.78,144.40 L528.67,144.00 L533.57,143.40 L538.46,137.40 L543.36,148.60 L548.25,141.60 L553.15,153.40 L558.04,149.00 L562.94,129.60 L567.83,144.00 L572.73,146.00 L577.62,151.60 L582.52,149.60 L587.41,148.00 L592.31,149.00 L597.20,142.40 L602.10,152.20 L606.99,152.80 L611.89,145.40 L616.78,141.60 L621.68,143.10 L626.57,150.80 L631.47,157.50 L636.36,159.30 L641.26,157.10 L646.15,154.20 L651.05,155.80 L655.94,144.50 L660.84,144.40 L665.73,150.70 L670.63,155.00 L675.52,154.30 L680.42,154.30 L685.31,150.70 L690.21,145.00 L695.10,148.60 L700.00,148.30" fill="none" stroke="#62c27b" stroke-width="1.7" stroke-linejoin="round" stroke-linecap="round"/>
</svg>
<div id="strip"></div>
<div id="txt">
<div class="t b" style="left:19.96px;top:17.89px;font-size:19.57px;color:#172030;transform:scaleX(0.9726);-webkit-text-stroke:0.3px #172030;">HBAR-USD</div>
<div class="t" style="left:19.67px;top:38.03px;font-size:10.58px;color:#2b3038;transform:scaleX(0.9962);">24 Hour Chart</div>
<div class="t b" style="left:19.61px;top:55.94px;font-size:38.41px;color:#172030;transform:scaleX(1.0823);-webkit-text-stroke:0.5px #172030;">0.2472</div>
<div class="t b" style="left:156.08px;top:78.65px;font-size:10.87px;color:#172030;transform:scaleX(1.0053);-webkit-text-stroke:0.25px #172030;">5.36%</div>
<div class="t b" style="left:404.82px;top:62.26px;font-size:12.29px;color:#172030;transform:scaleX(1.0138);-webkit-text-stroke:0.25px #172030;">0.2347</div>
<div class="t b" style="left:463.52px;top:62.26px;font-size:12.29px;color:#172030;transform:scaleX(1.0185);-webkit-text-stroke:0.25px #172030;">0.2517</div>
<div class="t b" style="left:521.52px;top:62.26px;font-size:12.29px;color:#172030;transform:scaleX(1.0365);-webkit-text-stroke:0.25px #172030;">0.2336</div>
<div class="t b" style="left:578.59px;top:62.26px;font-size:12.29px;color:#172030;transform:scaleX(1.0455);-webkit-text-stroke:0.25px #172030;">211.8 M</div>
<div class="t b" style="left:638.22px;top:62.26px;font-size:12.29px;color:#172030;transform:scaleX(1.0229);-webkit-text-stroke:0.25px #172030;">51.43 M</div>
<div class="t" style="left:410.97px;top:78.41px;font-size:11.45px;color:#2b3038;transform:scaleX(0.9283);">Open</div>
<div class="t" style="left:472.26px;top:78.47px;font-size:11.45px;color:#2b3038;transform:scaleX(0.8775);">High</div>
<div class="t" style="left:532.79px;top:78.45px;font-size:11.45px;color:#2b3038;transform:scaleX(0.8219);">Low</div>
<div class="t" style="left:593.71px;top:78.31px;font-size:11.45px;color:#2b3038;transform:scaleX(0.9545);">Vol</div>
<div class="t" style="left:640.71px;top:78.42px;font-size:11.45px;color:#2b3038;transform:scaleX(0.8936);">Vol USD</div>
<div class="t b" style="left:558.35px;top:7.41px;font-size:10.14px;color:#111;transform:scaleX(0.9549);-webkit-text-stroke:0.2px #111;">Powered by</div>
<div class="t b" style="left:577.15px;top:24.01px;font-size:15.94px;color:#0a0a0a;transform:scaleX(0.9283);-webkit-text-stroke:0.35px #0a0a0a;">CoinDesk</div>
<div class="t b" style="left:647.48px;top:24.01px;font-size:15.94px;color:#0a0a0a;transform:scaleX(0.9146);-webkit-text-stroke:0.35px #0a0a0a;">Data</div>
<div class="t" style="left:559.58px;top:45.52px;font-size:10.58px;color:#9a9a9a;transform:scaleX(0.9767);">18 Sep 2025 17:00 (GMT)</div>
<div class="t b" style="left:658.79px;top:115.27px;font-size:10.43px;color:#172030;transform:scaleX(1.0011);-webkit-text-stroke:0.25px #172030;">0.25</div>
<div class="t b" style="left:652.99px;top:170.27px;font-size:10.43px;color:#172030;transform:scaleX(1.0076);-webkit-text-stroke:0.25px #172030;">0.245</div>
<div class="t b" style="left:658.79px;top:225.27px;font-size:10.43px;color:#172030;transform:scaleX(0.9808);-webkit-text-stroke:0.25px #172030;">0.24</div>
<div class="t b" style="left:653.19px;top:280.47px;font-size:10.43px;color:#172030;transform:scaleX(1.0001);-webkit-text-stroke:0.25px #172030;">0.235</div>
<div class="t b" style="left:631.68px;top:323.28px;font-size:10.58px;color:#80908a;transform:scaleX(1.0225);">5,000,000</div>
<div class="t b" style="left:11.37px;top:331.54px;font-size:10.58px;color:#172030;transform:scaleX(1.0006);-webkit-text-stroke:0.25px #172030;">18:00</div>
<div class="t b" style="left:187.59px;top:331.54px;font-size:10.58px;color:#172030;transform:scaleX(0.9921);-webkit-text-stroke:0.25px #172030;">00:00</div>
<div class="t b" style="left:363.99px;top:331.54px;font-size:10.58px;color:#172030;transform:scaleX(0.9921);-webkit-text-stroke:0.25px #172030;">06:00</div>
<div class="t b" style="left:540.08px;top:331.54px;font-size:10.58px;color:#172030;transform:scaleX(0.9747);-webkit-text-stroke:0.25px #172030;">12:00</div>
</div>
<svg style="position:absolute;left:0;top:0" width="700" height="430" viewBox="0 0 700 430">
<path d="M198,80.3 L204.2,89.9 L191.8,89.9 Z" fill="#6bc283"/>
<g fill="#0a0a0a">
<path d="M572.7,24.9 L560.4,24.9 L560.4,37.2 L566.6,37.2" fill="none" stroke="#0a0a0a" stroke-width="2.6" stroke-linecap="round" stroke-linejoin="round"/>
<circle cx="560.4" cy="24.9" r="2.1"/><circle cx="566.6" cy="24.9" r="2.1"/><circle cx="572.7" cy="24.9" r="2.1"/>
<circle cx="560.4" cy="31.0" r="2.1"/><circle cx="560.4" cy="37.2" r="2.1"/><circle cx="566.6" cy="37.2" r="2.1"/>
<circle cx="566.7" cy="31.2" r="1.0"/><circle cx="572.7" cy="31.2" r="1.0"/><circle cx="572.7" cy="37.3" r="1.0"/>
</g>
</svg>
</body></html>
